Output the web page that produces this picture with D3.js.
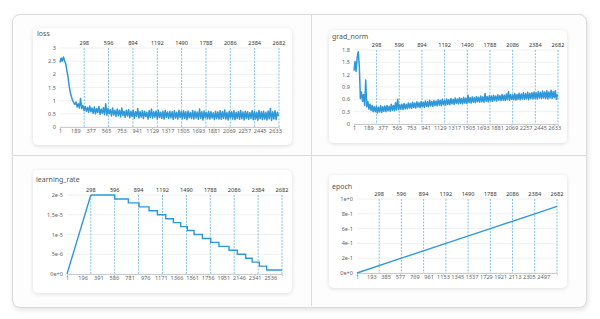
<!DOCTYPE html>
<html>
<head>
<meta charset="utf-8">
<script src="https://cdn.jsdelivr.net/npm/d3@7"></script>
<style>
  html, body { margin: 0; padding: 0; background: #ffffff; }
  body { width: 600px; height: 319px; position: relative; overflow: hidden; font-family: "Noto Sans", "Open Sans", sans-serif; }
  .frame { position: absolute; left: 12px; top: 14px; width: 573px; height: 292px; border: 1px solid #dcdcdc; border-radius: 8px; box-shadow: 1px 2px 5px rgba(0,0,0,0.12); background: #fdfdfd; }
  .vdiv { position: absolute; left: 311px; top: 15px; width: 1px; height: 291px; background: #dcdcdc; }
  .hdiv { position: absolute; left: 13px; top: 155px; width: 573px; height: 1px; background: #dcdcdc; }
  .card { position: absolute; background: #fff; border-radius: 5px; box-shadow: 0 1px 4px rgba(0,0,0,0.13); }
  svg { position: absolute; left: 0; top: 0; }
</style>
</head>
<body>
<div class="frame"></div>
<div class="vdiv"></div>
<div class="hdiv"></div>
<div class="card" style="left:33px;top:28px;width:259px;height:117px"></div>
<div class="card" style="left:329px;top:30px;width:238px;height:113px"></div>
<div class="card" style="left:33px;top:170px;width:259px;height:123px"></div>
<div class="card" style="left:329px;top:175px;width:238px;height:113px"></div>
<svg id="chart" width="600" height="319"></svg>
<script>
// ---------------- DATA ----------------
const topTicks = [298, 596, 894, 1192, 1490, 1788, 2086, 2384, 2682];

const lossBottomTicks = [1, 189, 377, 565, 753, 941, 1129, 1317, 1505, 1693, 1881, 2069, 2257, 2445, 2633];
const gradBottomTicks = [1, 189, 377, 565, 753, 941, 1129, 1317, 1505, 1693, 1881, 2069, 2257, 2445, 2633];
const lrBottomTicks = [1, 196, 391, 586, 781, 976, 1171, 1366, 1561, 1756, 1951, 2146, 2341, 2536];
const epochBottomTicks = [1, 193, 385, 577, 769, 961, 1153, 1345, 1537, 1729, 1921, 2113, 2305, 2497];

const lossYTicks = [0, 0.5, 1, 1.5, 2, 2.5, 3];
const gradYTicks = [0, 0.3, 0.6, 0.9, 1.2, 1.5, 1.8];
const lrYTicks = [0, 5e-6, 1e-5, 1.5e-5, 2e-5];
const lrYLabels = ["0e+0", "5e-6", "1e-5", "1.5e-5", "2e-5"];
const epochYTicks = [0, 0.2, 0.4, 0.6, 0.8, 1];
const epochYLabels = ["0e+0", "2e-1", "4e-1", "6e-1", "8e-1", "1e+0"];

// sampled every 14 steps, starting at step 1
const sampleEvery = 14;
const lossValues = [
  2.45, 2.62, 2.5, 2.66, 2.52, 2.4, 2.15, 1.9, 1.55, 1.32,
  1.15, 1.02, 0.92, 0.86, 0.95, 0.76, 0.88, 0.72, 1.08, 0.7,
  0.82, 0.62, 0.78, 0.6, 0.74, 0.56, 0.8, 0.58, 0.72, 0.52,
  0.76, 0.5, 0.7, 0.55, 0.78, 0.48, 0.68, 0.52, 0.74, 0.47,
  0.88, 0.45, 0.7, 0.5, 0.66, 0.42, 0.72, 0.46, 0.64, 0.4,
  0.68, 0.43, 0.64, 0.38, 0.72, 0.44, 0.6, 0.37, 0.64, 0.42,
  0.66, 0.35, 0.6, 0.4, 0.64, 0.33, 0.58, 0.41, 0.7, 0.34,
  0.58, 0.38, 0.62, 0.32, 0.6, 0.4, 0.56, 0.3, 0.63, 0.36,
  0.68, 0.34, 0.58, 0.38, 0.61, 0.31, 0.64, 0.36, 0.56, 0.33,
  0.6, 0.3, 0.63, 0.37, 0.57, 0.32, 0.6, 0.35, 0.58, 0.29,
  0.62, 0.34, 0.56, 0.3, 0.64, 0.36, 0.59, 0.31, 0.62, 0.33,
  0.58, 0.28, 0.61, 0.35, 0.55, 0.32, 0.63, 0.3, 0.6, 0.34,
  0.57, 0.29, 0.68, 0.33, 0.58, 0.27, 0.61, 0.35, 0.56, 0.31,
  0.6, 0.3, 0.58, 0.34, 0.54, 0.28, 0.6, 0.32, 0.57, 0.3,
  0.62, 0.29, 0.58, 0.33, 0.65, 0.3, 0.55, 0.27, 0.6, 0.34,
  0.58, 0.3, 0.62, 0.28, 0.56, 0.33, 0.59, 0.29, 0.63, 0.31,
  0.57, 0.27, 0.6, 0.32, 0.58, 0.29, 0.55, 0.33, 0.62, 0.28,
  0.59, 0.3, 0.56, 0.26, 0.63, 0.31, 0.58, 0.28, 0.6, 0.3,
  0.56, 0.27, 0.61, 0.31, 0.7, 0.25, 0.58, 0.3, 0.62, 0.28, 0.56, 0.42
];
const gradValues = [
  1.3, 1.52, 1.28, 1.62, 1.76, 1.4, 0.62, 0.78, 0.55, 0.72,
  0.45, 1.07, 0.42, 0.55, 0.36, 0.48, 0.33, 0.45, 0.3, 0.42,
  0.3, 0.43, 0.27, 0.41, 0.29, 0.45, 0.28, 0.42, 0.31, 0.44,
  0.3, 0.45, 0.32, 0.43, 0.31, 0.48, 0.33, 0.45, 0.32, 0.52,
  0.34, 0.6, 0.35, 0.47, 0.36, 0.48, 0.35, 0.5, 0.37, 0.48,
  0.37, 0.51, 0.39, 0.5, 0.38, 0.53, 0.4, 0.51, 0.39, 0.54,
  0.41, 0.52, 0.4, 0.55, 0.42, 0.53, 0.41, 0.56, 0.43, 0.54,
  0.42, 0.58, 0.44, 0.55, 0.43, 0.57, 0.45, 0.56, 0.44, 0.59,
  0.46, 0.58, 0.45, 0.6, 0.47, 0.57, 0.46, 0.61, 0.48, 0.59,
  0.47, 0.62, 0.49, 0.6, 0.48, 0.63, 0.5, 0.61, 0.49, 0.64,
  0.5, 0.62, 0.49, 0.65, 0.51, 0.63, 0.5, 0.7, 0.52, 0.64,
  0.51, 0.66, 0.53, 0.64, 0.52, 0.67, 0.54, 0.65, 0.53, 0.68,
  0.54, 0.66, 0.53, 0.74, 0.55, 0.67, 0.54, 0.69, 0.56, 0.68,
  0.55, 0.7, 0.57, 0.68, 0.56, 0.71, 0.58, 0.69, 0.57, 0.72,
  0.58, 0.7, 0.57, 0.73, 0.59, 0.79, 0.58, 0.72, 0.6, 0.71,
  0.59, 0.74, 0.58, 0.72, 0.6, 0.75, 0.59, 0.73, 0.61, 0.76,
  0.6, 0.74, 0.61, 0.77, 0.59, 0.75, 0.62, 0.76, 0.61, 0.78,
  0.62, 0.76, 0.61, 0.79, 0.63, 0.77, 0.62, 0.8, 0.63, 0.78,
  0.62, 0.81, 0.61, 0.78, 0.63, 0.82, 0.62, 0.79, 0.64, 0.81, 0.6, 0.72
];

// learning rate: warmup then stair-step decay
const lrWarmupSteps = [1, 298];
const lrWarmupValues = [0, 2e-5];
const lrStairSteps = [298, 596, 766, 899, 1024, 1128, 1232, 1327, 1419, 1502, 1585, 1689, 1793, 1896, 2021, 2125, 2229, 2310, 2400, 2491, 2682];
const lrStairValues = [2e-5, 1.9e-5, 1.8e-5, 1.7e-5, 1.6e-5, 1.5e-5, 1.4e-5, 1.3e-5, 1.2e-5, 1.1e-5, 1.0e-5, 9e-6, 8e-6, 7e-6, 6e-6, 5e-6, 4e-6, 3e-6, 2e-6, 1e-6, 1e-6];

const epochSteps = [1, 596, 1192, 1788, 2384, 2682];
const epochValues = [0, 0.2, 0.4, 0.6, 0.8, 0.9];

// ---------------- DRAW ----------------
const svg = d3.select("#chart");
const LINE = "#2f98d9";
const DASH = "#5fb3e6";

function drawChart(o) {
  const g = svg.append("g");
  const x = d3.scaleLinear().domain([1, 2682]).range([o.x0, o.x1]);
  const y = d3.scaleLinear().domain(o.yDomain).range([o.yBot, o.yTop]);

  g.append("text").attr("x", o.tx).attr("y", o.ty)
    .attr("font-size", 7).attr("fill", "#555").text(o.title);

  // horizontal grid
  g.append("g").selectAll("line").data(o.yTicks).join("line")
    .attr("x1", o.x0).attr("x2", o.x1)
    .attr("y1", d => y(d)).attr("y2", d => y(d))
    .attr("stroke", "#ececec").attr("stroke-width", 0.8);

  // y labels
  g.append("g").selectAll("text").data(o.yTicks).join("text")
    .attr("x", o.x0 - 4).attr("y", d => y(d) + 2)
    .attr("text-anchor", "end").attr("font-size", 5.6).attr("fill", "#666")
    .text((d, i) => o.yLabels ? o.yLabels[i] : d);

  // bottom axis
  const bAxis = d3.axisBottom(x).tickValues(o.bottomTicks).tickSize(2).tickFormat(d => d);
  const ba = g.append("g").attr("transform", `translate(0,${o.yBot})`).call(bAxis);
  ba.select(".domain").attr("stroke", "#ccc").attr("stroke-width", 1);
  ba.selectAll(".tick line").attr("stroke", "#ccc");
  ba.selectAll(".tick text").attr("font-size", 5.6).attr("fill", "#666")
    .attr("font-family", "Noto Sans, sans-serif").attr("dy", "0.55em").attr("y", 3);

  // top dashed lines and labels
  g.append("g").selectAll("line").data(topTicks).join("line")
    .attr("x1", d => x(d)).attr("x2", d => x(d))
    .attr("y1", o.yTop).attr("y2", o.yBot)
    .attr("stroke", DASH).attr("stroke-width", 0.8).attr("stroke-dasharray", "2,1.2");
  g.append("g").selectAll("text").data(topTicks).join("text")
    .attr("x", d => x(d)).attr("y", o.yTop - 3)
    .attr("text-anchor", "middle").attr("font-size", 5.6).attr("fill", "#333")
    .text(d => d);

  o.draw(g, x, y);
}

function noisyLine(values) {
  return (g, x, y) => {
    const line = d3.line().x((d, i) => x(1 + i * sampleEvery)).y(d => y(d));
    g.append("path").datum(values).attr("d", line)
      .attr("fill", "none").attr("stroke", LINE).attr("stroke-width", 1.5).attr("stroke-linejoin", "round");
  };
}

drawChart({
  title: "loss", tx: 37, ty: 35.5,
  x0: 60, x1: 279, yTop: 48, yBot: 127, yDomain: [0, 3],
  yTicks: lossYTicks, bottomTicks: lossBottomTicks,
  draw: noisyLine(lossValues)
});

drawChart({
  title: "grad_norm", tx: 332, ty: 38.5,
  x0: 354, x1: 558, yTop: 50, yBot: 124, yDomain: [0, 1.8],
  yTicks: gradYTicks, bottomTicks: gradBottomTicks,
  draw: noisyLine(gradValues)
});

drawChart({
  title: "learning_rate", tx: 36, ty: 181.5,
  x0: 67, x1: 282, yTop: 195, yBot: 274, yDomain: [0, 2e-5],
  yTicks: lrYTicks, yLabels: lrYLabels, bottomTicks: lrBottomTicks,
  draw: (g, x, y) => {
    const warm = lrWarmupSteps.map((s, i) => [s, lrWarmupValues[i]]);
    const stair = lrStairSteps.map((s, i) => [s, lrStairValues[i]]);
    g.append("path").datum(warm)
      .attr("d", d3.line().x(d => x(d[0])).y(d => y(d[1])))
      .attr("fill", "none").attr("stroke", LINE).attr("stroke-width", 1.4);
    g.append("path").datum(stair)
      .attr("d", d3.line().curve(d3.curveStepAfter).x(d => x(d[0])).y(d => y(d[1])))
      .attr("fill", "none").attr("stroke", LINE).attr("stroke-width", 1.4);
  }
});

drawChart({
  title: "epoch", tx: 332, ty: 188.5,
  x0: 357, x1: 557, yTop: 199, yBot: 273, yDomain: [0, 1],
  yTicks: epochYTicks, yLabels: epochYLabels, bottomTicks: epochBottomTicks,
  draw: (g, x, y) => {
    const pts = epochSteps.map((s, i) => [s, epochValues[i]]);
    g.append("path").datum(pts)
      .attr("d", d3.line().x(d => x(d[0])).y(d => y(d[1])))
      .attr("fill", "none").attr("stroke", LINE).attr("stroke-width", 1.4);
  }
});
</script>
</body>
</html>
